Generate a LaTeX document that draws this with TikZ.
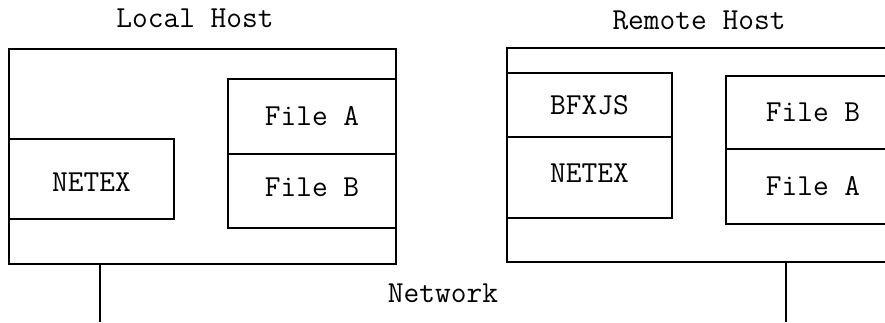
\documentclass[tikz,border=0pt]{standalone}
\usepackage{fontspec}
\usetikzlibrary{positioning}
\begin{document}
\begin{tikzpicture}[x=0.75pt,y=-0.75pt,line width=1.2pt,
    every node/.style={font=\ttfamily\fontsize{22.9}{26}\selectfont},
    box/.style 2 args={draw,rectangle,inner sep=0pt,
      minimum width=#1*0.75pt,minimum height=#2*0.75pt}]
            \useasboundingbox (0,0) rectangle (885,322);
            \clip (0,0) rectangle (885,322);
            \node[box={387}{215}] (lhost) at (202.5,156.5) {};
            \node (ltitle) at (195,18) {Local Host};
            \node[box={165}{80}, text height=18pt] (lnetex) at (91.5,179) {NETEX};
            \node[box={168}{75}] (lfilea) at (312,116.5) {File A};
            \node[box={168}{74}, text depth=6pt] (lfileb) at (312,191) {File B};
            \node[box={393}{214}] (rhost) at (703.5,155) {};
            \node (rtitle) at (699,20) {Remote Host};
            \node[box={165}{64}] (rbfxjs) at (589.5,105) {BFXJS};
            \node[box={165}{81}, text depth=7pt] (rnetex) at (589.5,177.5) {NETEX};
            \node[box={174}{73}] (rfileb) at (813,112.5) {File B};
            \node[box={174}{75}] (rfilea) at (813,186.5) {File A};
            \node (net) at (443,293) {Network};
            \coordinate (lnet) at (100,322);
            \coordinate (rnet) at (786,322);
            \draw (lnet |- lhost.south) -- (lnet);
            \draw (rnet |- rhost.south) -- (rnet);
        \end{tikzpicture}
\end{document}
